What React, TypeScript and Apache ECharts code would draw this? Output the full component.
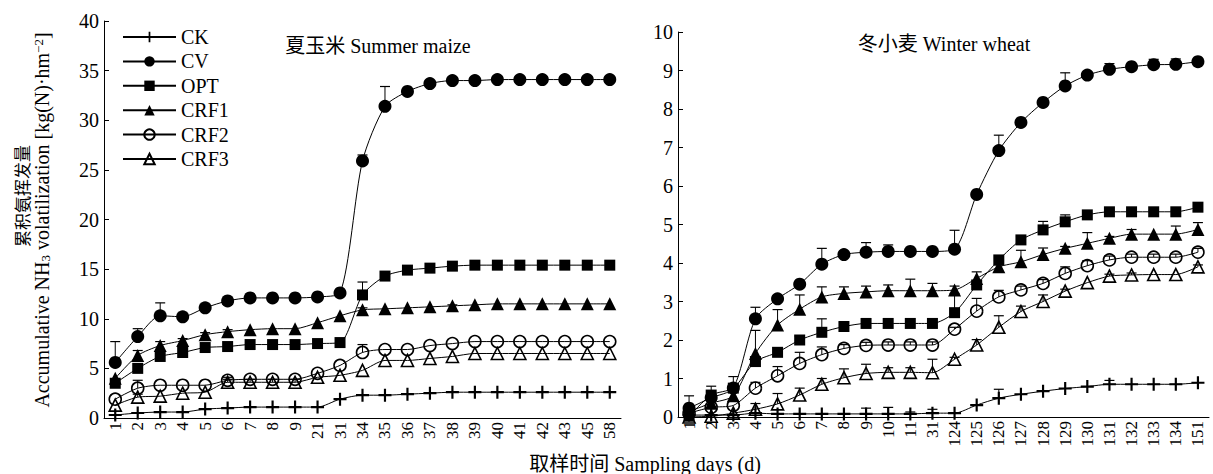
import React, { useEffect, useRef } from 'react';
import * as echarts from 'echarts';

const FONT = '"Liberation Serif", "Times New Roman", "Noto Sans CJK SC", serif';
const CJK = '"Noto Sans CJK SC", "Liberation Serif", serif';

// ---------- categories ----------
const maizeDays = ['1', '2', '3', '4', '5', '6', '7', '8', '9', '21', '31', '34', '35', '36', '37', '38', '39', '40', '41', '42', '43', '45', '58'];
const wheatDays = ['1', '2', '3', '4', '5', '6', '7', '8', '9', '10', '11', '31', '124', '125', '126', '127', '128', '129', '130', '131', '132', '133', '134', '151'];

const treatments = ['CK', 'CV', 'OPT', 'CRF1', 'CRF2', 'CRF3'];

// ---------- summer maize values ----------
const maizeCK = [0.3, 0.5, 0.6, 0.6, 0.9, 1.0, 1.1, 1.1, 1.1, 1.1, 1.9, 2.3, 2.3, 2.4, 2.5, 2.6, 2.6, 2.6, 2.6, 2.6, 2.6, 2.6, 2.6];
const maizeCV = [5.6, 8.2, 10.3, 10.2, 11.1, 11.8, 12.1, 12.1, 12.1, 12.2, 12.6, 25.9, 31.4, 32.9, 33.7, 34.0, 34.0, 34.1, 34.1, 34.1, 34.1, 34.1, 34.1];
const maizeOPT = [3.5, 5.0, 6.2, 6.6, 7.1, 7.2, 7.4, 7.4, 7.4, 7.5, 7.6, 12.4, 14.3, 14.9, 15.1, 15.3, 15.4, 15.4, 15.4, 15.4, 15.4, 15.4, 15.4];
const maizeCRF1 = [4.0, 6.3, 7.3, 7.8, 8.4, 8.7, 8.9, 9.0, 9.0, 9.6, 10.3, 10.9, 11.0, 11.1, 11.2, 11.3, 11.4, 11.5, 11.5, 11.5, 11.5, 11.5, 11.5];
const maizeCRF2 = [1.9, 3.0, 3.3, 3.3, 3.3, 3.8, 3.9, 3.9, 3.9, 4.5, 5.3, 6.6, 6.9, 6.9, 7.3, 7.5, 7.7, 7.7, 7.7, 7.7, 7.7, 7.7, 7.7];
const maizeCRF3 = [1.3, 2.1, 2.2, 2.5, 2.6, 3.6, 3.6, 3.6, 3.6, 4.1, 4.3, 4.8, 5.8, 5.8, 6.0, 6.2, 6.5, 6.5, 6.5, 6.5, 6.5, 6.5, 6.5];

// upper error bars (summer maize)
const maizeCKErr = [0, 0, 0, 0, 0, 0, 0, 0, 0, 0, 0, 0, 0, 0, 0, 0, 0, 0, 0, 0, 0, 0, 0];
const maizeCVErr = [2.1, 0.8, 1.3, 0, 0.2, 0.2, 0.1, 0, 0, 0, 0, 0.6, 2.0, 0.2, 0.1, 0, 0, 0, 0, 0, 0, 0, 0];
const maizeOPTErr = [0, 0, 0, 0, 0, 0, 0, 0, 0, 0, 0, 1.3, 0, 0, 0, 0, 0, 0, 0, 0, 0, 0, 0];
const maizeCRF1Err = [0, 0.5, 0.4, 0.2, 0.2, 0.2, 0, 0, 0, 0, 0, 0.2, 0, 0, 0, 0.1, 0, 0, 0, 0, 0, 0, 0];
const maizeCRF2Err = [0, 0.8, 0, 0, 0, 0.3, 0, 0, 0, 0, 0, 0.8, 0, 0, 0, 0, 0, 0, 0, 0, 0, 0, 0];
const maizeCRF3Err = [0, 0.3, 0, 0, 0, 0.3, 0.3, 0.3, 0.3, 0, 0, 0, 0, 0, 0, 0, 0, 0, 0, 0, 0, 0, 0];

// ---------- winter wheat values ----------
const wheatCK = [0.05, 0.05, 0.05, 0.1, 0.08, 0.08, 0.08, 0.08, 0.08, 0.08, 0.08, 0.1, 0.1, 0.31, 0.49, 0.59, 0.67, 0.74, 0.79, 0.85, 0.85, 0.85, 0.85, 0.89];
const wheatCV = [0.23, 0.5, 0.75, 2.55, 3.07, 3.45, 3.97, 4.22, 4.28, 4.3, 4.3, 4.3, 4.36, 5.78, 6.92, 7.65, 8.17, 8.6, 8.88, 9.03, 9.1, 9.15, 9.16, 9.23];
const wheatOPT = [0.02, 0.57, 0.75, 1.44, 1.68, 2.0, 2.2, 2.35, 2.43, 2.43, 2.43, 2.43, 2.71, 3.43, 4.08, 4.6, 4.86, 5.07, 5.25, 5.33, 5.33, 5.33, 5.33, 5.45];
const wheatCRF1 = [0.14, 0.36, 0.55, 1.65, 2.39, 2.8, 3.12, 3.21, 3.25, 3.28, 3.28, 3.28, 3.3, 3.6, 3.9, 4.03, 4.22, 4.38, 4.51, 4.64, 4.75, 4.75, 4.75, 4.87];
const wheatCRF2 = [0.1, 0.25, 0.3, 0.75, 1.07, 1.39, 1.62, 1.78, 1.86, 1.87, 1.87, 1.87, 2.28, 2.75, 3.12, 3.3, 3.47, 3.73, 3.93, 4.08, 4.15, 4.15, 4.15, 4.28];
const wheatCRF3 = [0.0, 0.02, 0.1, 0.2, 0.34, 0.57, 0.85, 1.02, 1.13, 1.16, 1.16, 1.15, 1.5, 1.87, 2.33, 2.74, 3.0, 3.27, 3.49, 3.66, 3.69, 3.7, 3.7, 3.9];

// upper error bars (winter wheat)
const wheatCKErr = [0, 0, 0, 0, 0, 0, 0, 0, 0.15, 0.17, 0.05, 0.1, 0, 0, 0.23, 0, 0, 0, 0, 0.1, 0, 0, 0, 0];
const wheatCVErr = [0.32, 0.3, 0.3, 0.3, 0.05, 0, 0.41, 0, 0.25, 0.17, 0.05, 0.05, 0.49, 0.05, 0.4, 0, 0, 0.34, 0, 0.15, 0, 0.14, 0.14, 0.05];
const wheatOPTErr = [0, 0, 0, 0, 0, 0.1, 0.35, 0.1, 0, 0, 0, 0, 0.5, 0.1, 0, 0.08, 0.22, 0.18, 0.05, 0.03, 0.03, 0.03, 0.03, 0.03];
const wheatCRF1Err = [0, 0, 0, 0.6, 0.4, 0.37, 0.26, 0.17, 0.15, 0.15, 0.3, 0.19, 0.1, 0.17, 0.05, 0.3, 0.17, 0.05, 0.28, 0.05, 0.12, 0, 0.21, 0.18];
const wheatCRF2Err = [0, 0, 0, 0.15, 0.24, 0.29, 0.2, 0.1, 0.08, 0.08, 0.08, 0.08, 0.05, 0.33, 0.17, 0.1, 0.1, 0.17, 0.13, 0.1, 0.08, 0.08, 0.08, 0.1];
const wheatCRF3Err = [0, 0, 0, 0.15, 0.27, 0.18, 0.15, 0.23, 0.24, 0.12, 0.12, 0.35, 0.05, 0.14, 0.3, 0.14, 0.17, 0.05, 0, 0.05, 0.05, 0, 0, 0.05];

// ---------- axis ticks ----------
const maizeYMax = 40;
const maizeYStep = 5;
const wheatYMax = 10;
const wheatYStep = 1;

const PLUS = 'path://M-1,-6 L1,-6 L1,-1 L6,-1 L6,1 L1,1 L1,6 L-1,6 L-1,1 L-6,1 L-6,-1 L-1,-1 Z';

const markerStyles: Record<string, { symbol: string; size: number; open: boolean }> = {
  CK: { symbol: PLUS, size: 13, open: false },
  CV: { symbol: 'circle', size: 13, open: false },
  OPT: { symbol: 'rect', size: 11, open: false },
  CRF1: { symbol: 'triangle', size: 13, open: false },
  CRF2: { symbol: 'circle', size: 12, open: true },
  CRF3: { symbol: 'triangle', size: 12, open: true },
};

const maizeSets = [maizeCK, maizeCV, maizeOPT, maizeCRF1, maizeCRF2, maizeCRF3];
const maizeErrs = [maizeCKErr, maizeCVErr, maizeOPTErr, maizeCRF1Err, maizeCRF2Err, maizeCRF3Err];
const wheatSets = [wheatCK, wheatCV, wheatOPT, wheatCRF1, wheatCRF2, wheatCRF3];
const wheatErrs = [wheatCKErr, wheatCVErr, wheatOPTErr, wheatCRF1Err, wheatCRF2Err, wheatCRF3Err];

function lineSeries(name: string, idx: number, data: number[]) {
  const m = markerStyles[name];
  return {
    type: 'line',
    name,
    xAxisIndex: idx,
    yAxisIndex: idx,
    data,
    symbol: m.symbol,
    symbolSize: m.size,
    showAllSymbol: true,
    smooth: 0.25,
    z: 3,
    silent: true,
    lineStyle: { color: '#000', width: 1 },
    itemStyle: {
      color: m.open ? 'rgba(255,255,255,0)' : '#000',
      borderColor: '#000',
      borderWidth: m.open ? 1.6 : 0,
    },
    emphasis: { disabled: true },
  };
}

function errorSeries(idx: number, values: number[], errs: number[]) {
  return {
    type: 'custom',
    xAxisIndex: idx,
    yAxisIndex: idx,
    z: 2,
    silent: true,
    encode: { x: 0, y: 1 },
    data: values.map((v, i) => [i, v, errs[i]]),
    renderItem: (params: any, api: any) => {
      const e = api.value(2);
      if (!e) return null;
      const p0 = api.coord([api.value(0), api.value(1)]);
      const p1 = api.coord([api.value(0), api.value(1) + e]);
      return {
        type: 'group',
        children: [
          { type: 'line', shape: { x1: p0[0], y1: p0[1], x2: p1[0], y2: p1[1] }, style: { stroke: '#000', lineWidth: 1 } },
          { type: 'line', shape: { x1: p1[0] - 5, y1: p1[1], x2: p1[0] + 5, y2: p1[1] }, style: { stroke: '#000', lineWidth: 1.2 } },
        ],
      };
    },
  };
}

function catAxis(idx: number, data: string[]) {
  return {
    type: 'category',
    gridIndex: idx,
    data,
    boundaryGap: true,
    axisLine: { lineStyle: { color: '#000', width: 1 } },
    axisTick: { inside: true, length: 5, lineStyle: { color: '#000' } },
    axisLabel: { rotate: 90, interval: 0, fontSize: 17, color: '#000', fontFamily: FONT, margin: 4 },
    splitLine: { show: false },
  };
}

function valAxis(idx: number, max: number, step: number) {
  return {
    type: 'value',
    gridIndex: idx,
    min: 0,
    max,
    interval: step,
    axisLine: { show: true, lineStyle: { color: '#000', width: 1 } },
    axisTick: { show: true, inside: true, length: 5, lineStyle: { color: '#000' } },
    axisLabel: { fontSize: 20, color: '#000', fontFamily: FONT, margin: 5 },
    splitLine: { show: false },
  };
}

export default function App() {
  const ref = useRef<HTMLDivElement>(null);

  useEffect(() => {
    if (!ref.current) return;
    const chart = echarts.init(ref.current, null, { renderer: 'svg' });
    const series: any[] = [];
    treatments.forEach((n, i) => series.push(errorSeries(0, maizeSets[i], maizeErrs[i])));
    treatments.forEach((n, i) => series.push(errorSeries(1, wheatSets[i], wheatErrs[i])));
    treatments.forEach((n, i) => series.push(lineSeries(n, 0, maizeSets[i])));
    treatments.forEach((n, i) => series.push(lineSeries(n, 1, wheatSets[i])));

    chart.setOption({
      animation: false,
      backgroundColor: '#fff',
      textStyle: { fontFamily: FONT, color: '#000' },
      grid: [
        { left: 104, top: 21, width: 517, height: 397 },
        { left: 678, top: 32, width: 531, height: 385 },
      ],
      xAxis: [catAxis(0, maizeDays), catAxis(1, wheatDays)],
      yAxis: [valAxis(0, maizeYMax, maizeYStep), valAxis(1, wheatYMax, wheatYStep)],
      legend: {
        data: treatments,
        orient: 'vertical',
        left: 122,
        top: 27,
        padding: 0,
        itemWidth: 53,
        itemHeight: 13,
        itemGap: 4.4,
        selectedMode: false,
        textStyle: { fontFamily: FONT, fontSize: 20, color: '#000' },
      },
      graphic: [
        {
          type: 'text', x: 378, y: 46,
          style: { text: '夏玉米 Summer maize', fontFamily: FONT, fontSize: 20, fill: '#000', align: 'center', verticalAlign: 'middle' },
        },
        {
          type: 'text', x: 944, y: 44,
          style: { text: '冬小麦 Winter wheat', fontFamily: FONT, fontSize: 20, fill: '#000', align: 'center', verticalAlign: 'middle' },
        },
        {
          type: 'text', x: 645, y: 464,
          style: { text: '取样时间 Sampling days (d)', fontFamily: FONT, fontSize: 20, fill: '#000', align: 'center', verticalAlign: 'middle' },
        },
        {
          type: 'text', x: 21, y: 196, rotation: Math.PI / 2,
          style: { text: '累积氨挥发量', fontFamily: CJK, fontSize: 17, fill: '#000', align: 'center', verticalAlign: 'middle' },
        },
        {
          type: 'text', x: 42, y: 220, rotation: Math.PI / 2,
          style: {
            text: 'Accumulative NH{sub|3} volatilization [kg(N)·hm{sup|−2}]',
            fontFamily: FONT, fontSize: 20, fill: '#000', align: 'center', verticalAlign: 'middle',
            rich: {
              sub: { fontFamily: FONT, fontSize: 13, verticalAlign: 'bottom', lineHeight: 13, fill: '#000' },
              sup: { fontFamily: FONT, fontSize: 13, verticalAlign: 'top', lineHeight: 13, fill: '#000' },
            },
          },
        },
      ],
      series,
    });
    return () => chart.dispose();
  }, []);

  return <div ref={ref} style={{ position: 'absolute', left: 0, top: 0, width: 1213, height: 474 }} />;
}
